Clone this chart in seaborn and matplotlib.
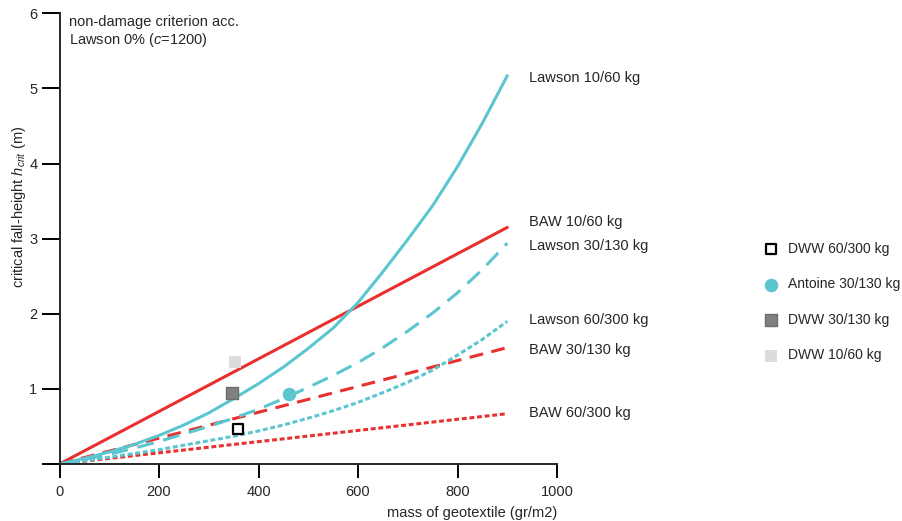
import matplotlib
matplotlib.use("Agg")
import matplotlib.pyplot as plt
import pandas as pd
import seaborn as sns

# mass of geotextile (gr/m2) sample points
MASS = [0, 50, 100, 150, 200, 250, 300, 350, 400, 450,
        500, 550, 600, 650, 700, 750, 800, 850, 900]

LAWSON_10_60 = [0, 0.075, 0.16, 0.26, 0.38, 0.52, 0.68, 0.87, 1.07, 1.29,
                1.54, 1.81, 2.15, 2.56, 2.99, 3.44, 3.96, 4.54, 5.17]
LAWSON_30_130 = [0, 0.06, 0.13, 0.21, 0.30, 0.40, 0.50, 0.61, 0.73, 0.87,
                 1.02, 1.18, 1.35, 1.55, 1.77, 2.01, 2.28, 2.59, 2.94]
LAWSON_60_300 = [0, 0.04, 0.09, 0.14, 0.19, 0.25, 0.31, 0.37, 0.44, 0.52,
                 0.61, 0.71, 0.82, 0.95, 1.09, 1.25, 1.45, 1.66, 1.90]

# BAW lines are straight
BAW_MASS = [0, 900]
BAW_10_60 = [0, 3.15]
BAW_30_130 = [0, 1.55]
BAW_60_300 = [0, 0.67]

# measured points
DWW_60_300 = (359, 0.46)
ANTOINE_30_130 = (461, 0.93)
DWW_30_130 = (346, 0.94)
DWW_10_60 = (352, 1.36)

CYAN = "#5bc6d0"
RED = "#e8312f"

LINE_LABELS = [
    ("Lawson 10/60 kg", 5.14),
    ("BAW 10/60 kg", 3.22),
    ("Lawson 30/130 kg", 2.90),
    ("Lawson 60/300 kg", 1.92),
    ("BAW 30/130 kg", 1.52),
    ("BAW 60/300 kg", 0.68),
]


def main():
    sns.set_style("ticks")
    plt.rcParams["font.family"] = ["Liberation Sans", "DejaVu Sans"]
    plt.rcParams["mathtext.fontset"] = "custom"
    plt.rcParams["mathtext.it"] = "Liberation Sans:italic"
    plt.rcParams["mathtext.rm"] = "Liberation Sans"

    fig = plt.figure(figsize=(9.02, 5.21), dpi=100)
    ax = fig.add_axes([0.066, 0.1094, 0.5516, 0.865])

    lawson = pd.DataFrame({"mass": MASS, "l10": LAWSON_10_60,
                           "l30": LAWSON_30_130, "l60": LAWSON_60_300})
    baw = pd.DataFrame({"mass": BAW_MASS, "b10": BAW_10_60,
                        "b30": BAW_30_130, "b60": BAW_60_300})

    lw = 2.2
    sns.lineplot(data=baw, x="mass", y="b60", color=RED, lw=lw,
                 linestyle=(0, (1.6, 0.9)), ax=ax)
    sns.lineplot(data=baw, x="mass", y="b30", color=RED, lw=lw,
                 linestyle=(0, (4.5, 2.8)), ax=ax)
    sns.lineplot(data=baw, x="mass", y="b10", color=RED, lw=lw, ax=ax)
    sns.lineplot(data=lawson, x="mass", y="l60", color=CYAN, lw=lw,
                 linestyle=(0, (1.6, 0.9)), ax=ax)
    sns.lineplot(data=lawson, x="mass", y="l30", color=CYAN, lw=lw,
                 linestyle=(0, (5.5, 3.2)), ax=ax)
    sns.lineplot(data=lawson, x="mass", y="l10", color=CYAN, lw=lw, ax=ax)

    sns.scatterplot(x=[DWW_60_300[0]], y=[DWW_60_300[1]], marker="s", s=55,
                    color="white", edgecolor="black", linewidth=1.6,
                    label="DWW 60/300 kg", ax=ax, zorder=5)
    sns.scatterplot(x=[ANTOINE_30_130[0]], y=[ANTOINE_30_130[1]], marker="o",
                    s=95, color=CYAN, edgecolor=CYAN, linewidth=0,
                    label="Antoine 30/130 kg", ax=ax, zorder=5)
    sns.scatterplot(x=[DWW_30_130[0]], y=[DWW_30_130[1]], marker="s", s=70,
                    color="#808080", edgecolor="#6e6e6e", linewidth=1.0,
                    label="DWW 30/130 kg", ax=ax, zorder=5)
    sns.scatterplot(x=[DWW_10_60[0]], y=[DWW_10_60[1]], marker="s", s=70,
                    color="#dcdcdc", edgecolor="#dcdcdc", linewidth=0,
                    label="DWW 10/60 kg", ax=ax, zorder=5)

    ax.set_xlim(0, 1000)
    ax.set_ylim(0, 6)
    ax.set_xticks([0, 200, 400, 600, 800, 1000])
    ax.set_yticks([0, 1, 2, 3, 4, 5, 6])
    ax.set_yticklabels(["", "1", "2", "3", "4", "5", "6"])
    sns.despine(ax=ax)
    for sp in ("left", "bottom"):
        ax.spines[sp].set_linewidth(1.4)
    ax.tick_params(axis="both", length=10, width=1.4, labelsize=10.5,
                   direction="out", color="black")
    ax.tick_params(axis="y", length=13, pad=3)
    ax.tick_params(axis="x", pad=5)

    ax.set_xlabel("mass of geotextile (gr/m2)", fontsize=10.5, loc="right",
                  labelpad=5)
    ax.set_ylabel(r"critical fall-height $h_{crit}$ (m)", fontsize=10.5)
    ax.yaxis.set_label_coords(-0.064, 0.57)

    ax.text(20, 5.98, "non-damage criterion acc.\nLawson 0% ($c$=1200)",
            fontsize=10.5, va="top", ha="left", linespacing=1.2)

    for text, y in LINE_LABELS:
        ax.text(944, y, text, fontsize=10.5, va="center", ha="left",
                clip_on=False)

    ax.legend(loc="upper left", bbox_to_anchor=(0.8471, 0.536),
              bbox_transform=fig.transFigure, frameon=False, borderpad=0,
              borderaxespad=0, handlelength=1.0, handletextpad=0.75,
              labelspacing=1.55, fontsize=10, scatterpoints=1)

    fig.savefig("out.png", dpi=100)


if __name__ == "__main__":
    main()
